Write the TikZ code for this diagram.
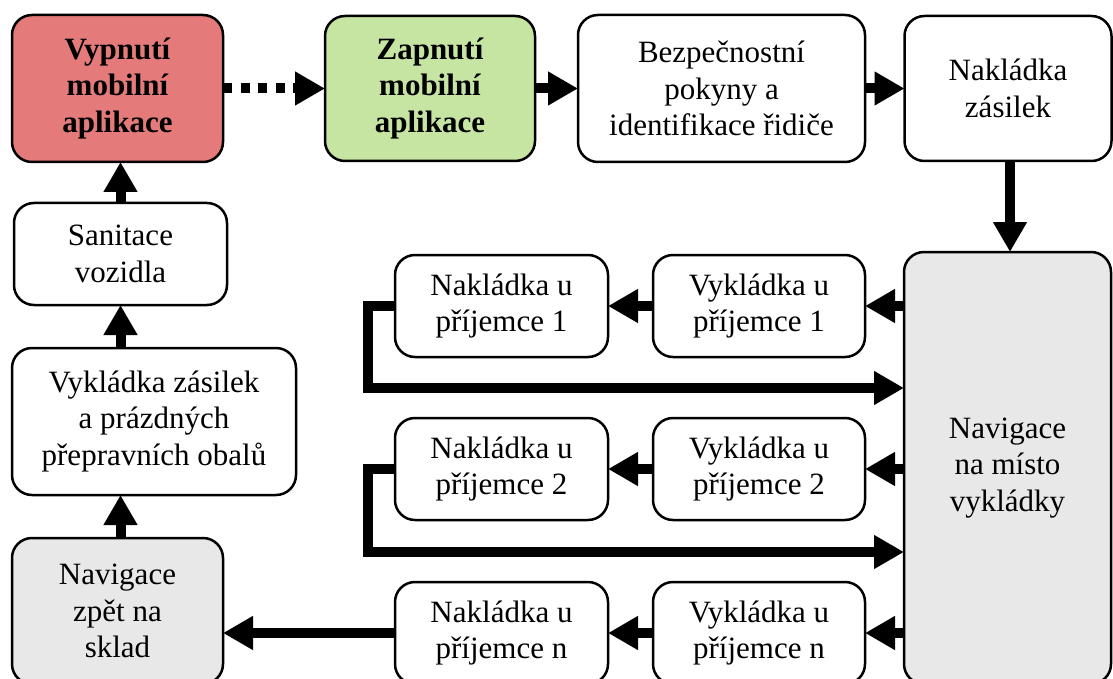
\documentclass[tikz,border=0pt]{standalone}
\usepackage{fontspec}
\setmainfont{Liberation Serif}
\usetikzlibrary{arrows.meta}
\definecolor{offred}{RGB}{229,122,122}
\definecolor{ongreen}{RGB}{198,228,162}
\definecolor{navgray}{RGB}{232,232,232}
\tikzset{
  box/.style={draw=black, line width=2.5pt, rounded corners=20pt, fill=white,
    align=center, inner sep=0pt, outer sep=0pt,
    font=\fontsize{31}{36.5}\selectfont},
  conn/.style={line width=10pt, line join=miter,
    -{Triangle[length=30pt,width=32pt]}},
  dotconn/.style={conn, dash pattern=on 9pt off 8.5pt}
}
\begin{document}
\begin{tikzpicture}[x=1pt,y=-1pt]
\useasboundingbox (0,0) rectangle (1113,679);
\clip (0,0) rectangle (1113,679);

% top row
\node[box, fill=offred, minimum width=211pt, minimum height=147pt, font=\fontsize{31}{36.5}\selectfont\bfseries]
  (vyp) at (117.5,88.5) {Vypnutí\\mobilní\\aplikace};
\node[box, fill=ongreen, minimum width=210pt, minimum height=145pt, font=\fontsize{31}{36.5}\selectfont\bfseries]
  (zap) at (430,88.5) {Zapnutí\\mobilní\\aplikace};
\node[box, minimum width=287pt, minimum height=147pt]
  (bez) at (721.5,88.5) {Bezpečnostní\\pokyny a\\identifikace řidiče};
\node[box, minimum width=207pt, minimum height=145pt]
  (nakz) at (1008,88.5) {Nakládka\\zásilek};

% destination navigation
\node[box, fill=navgray, minimum width=207pt, minimum height=432pt]
  (nav) at (1007.5,468) {Navigace\\na místo\\vykládky};

% per-recipient rows
\node[box, minimum width=212pt, minimum height=102pt] (v1) at (759,306) {Vykládka u\\příjemce 1};
\node[box, minimum width=213pt, minimum height=102pt] (n1) at (501.5,306) {Nakládka u\\příjemce 1};
\node[box, minimum width=212pt, minimum height=102pt] (v2) at (759,469) {Vykládka u\\příjemce 2};
\node[box, minimum width=213pt, minimum height=102pt] (n2) at (501.5,469) {Nakládka u\\příjemce 2};
\node[box, minimum width=212pt, minimum height=102pt] (vn) at (759,633) {Vykládka u\\příjemce n};
\node[box, minimum width=213pt, minimum height=102pt] (nn) at (501.5,633) {Nakládka u\\příjemce n};

% left column
\node[box, fill=navgray, minimum width=211pt, minimum height=146pt]
  (back) at (117.5,611) {Navigace\\zpět na\\sklad};
\node[box, minimum width=284pt, minimum height=147pt]
  (vyk) at (154,421.5) {Vykládka zásilek\\a prázdných\\přepravních obalů};
\node[box, minimum width=213pt, minimum height=102pt]
  (san) at (120.5,254) {Sanitace\\vozidla};

% loop-back corners and the drop line under the loading box
\coordinate (l1) at (368,388);
\coordinate (l2) at (368,552);
\coordinate (drop) at (1010,0);

% connectors along the top
\draw[dotconn] (vyp.east) -- (zap.west);
\draw[conn] (zap.east) -- (bez.west);
\draw[conn] (bez.east) -- (nakz.west);
\draw[conn] (nakz.south -| drop) -- (nav.north -| drop);

% recipient rows
\draw[conn] (nav.west |- v1.east) -- (v1.east);
\draw[conn] (v1.west) -- (n1.east);
\draw[conn] (n1.west) -| (l1) -- (nav.west |- l1);
\draw[conn] (nav.west |- v2.east) -- (v2.east);
\draw[conn] (v2.west) -- (n2.east);
\draw[conn] (n2.west) -| (l2) -- (nav.west |- l2);
\draw[conn] (nav.west |- vn.east) -- (vn.east);
\draw[conn] (vn.west) -- (nn.east);
\draw[conn] (nn.west) -- (back.east |- nn.west);

% return column
\draw[conn] (back.north -| san.south) -- (vyk.south -| san.south);
\draw[conn] (vyk.north -| san.south) -- (san.south);
\draw[conn] (san.north) -- (vyp.south -| san.north);
\end{tikzpicture}
\end{document}
